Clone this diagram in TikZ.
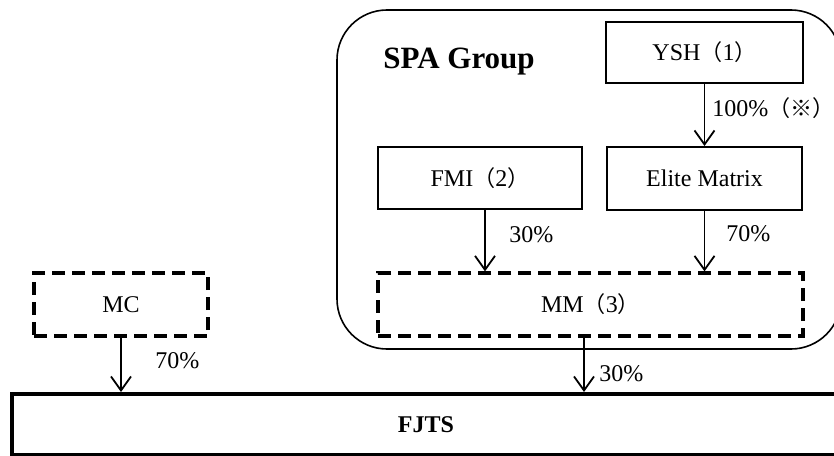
\documentclass[tikz,border=0pt]{standalone}
\usepackage{fontspec}
\setmainfont{Liberation Serif}
\newfontfamily\cjk[Scale=0.92]{Noto Sans CJK SC}
\usetikzlibrary{arrows.meta}
\newcommand\lpar{{\cjk （}}
\newcommand\rpar{{\cjk ）}}
\begin{document}
\begin{tikzpicture}[x=0.5pt, y=-0.5pt,
  every node/.style={font=\fontsize{12}{14}\selectfont},
  firm/.style={draw, line width=1pt, inner sep=0pt},
  outside/.style={draw, line width=1.6pt, dash pattern=on 6.5pt off 3.5pt, inner sep=0pt},
  share/.style={-{Straight Barb[length=7pt, width=10pt, line width=0.9pt]}, line width=0.7pt},
  pct/.style={anchor=west, inner sep=0pt}]
\useasboundingbox (0,0) rectangle (834,455);
% Groupe SPA
\draw[line width=0.8pt, rounded corners=25pt] (337,10) rectangle (841,349);
\node[anchor=base west, inner sep=0pt, font=\fontsize{15.5}{18}\selectfont\bfseries] (spa) at (383,68) {SPA Group};
%
\node[firm, minimum width=98.5pt, minimum height=30.5pt] (ysh) at (704.5,52.5) {YSH\lpar 1\rpar};
\node[firm, minimum width=97.5pt, minimum height=31.5pt] (elite) at (704.5,178.5) {Elite Matrix};
\node[firm, minimum width=102pt, minimum height=31pt] (fmi) at (480,178) {FMI\lpar 2\rpar};
\node[outside, minimum width=212.5pt, minimum height=31.5pt] (mm) at (590.5,304.5) {MM\lpar 3\rpar};
\node[outside, minimum width=87pt, minimum height=31.5pt] (mc) at (121,304.5) {MC};
\node[draw, line width=2pt, minimum width=414pt, minimum height=30.5pt, font=\fontsize{12}{14}\selectfont\bfseries] (fjts) at (426,424.5) {FJTS};
%
\draw[share] (ysh.south) -- (elite.north);
\draw[share] ([xshift=2.5pt]fmi.south) -- ([xshift=2.5pt]fmi.south |- mm.north);
\draw[share] (elite.south) -- (elite.south |- mm.north);
\draw[share] ([xshift=-3.25pt]mm.south) -- ([xshift=-3.25pt]mm.south |- fjts.north);
\draw[share] (mc.south) -- (mc.south |- fjts.north);
%
\node[pct] (p100) at (712,108) {100\%\lpar{\cjk ※}\rpar};
\node[pct] (p30fmi) at (509,235) {30\%};
\node[pct] (p70elite) at (726,234) {70\%};
\node[pct] (p70mc) at (155,361) {70\%};
\node[pct] (p30mm) at (599,374) {30\%};
\end{tikzpicture}
\end{document}
